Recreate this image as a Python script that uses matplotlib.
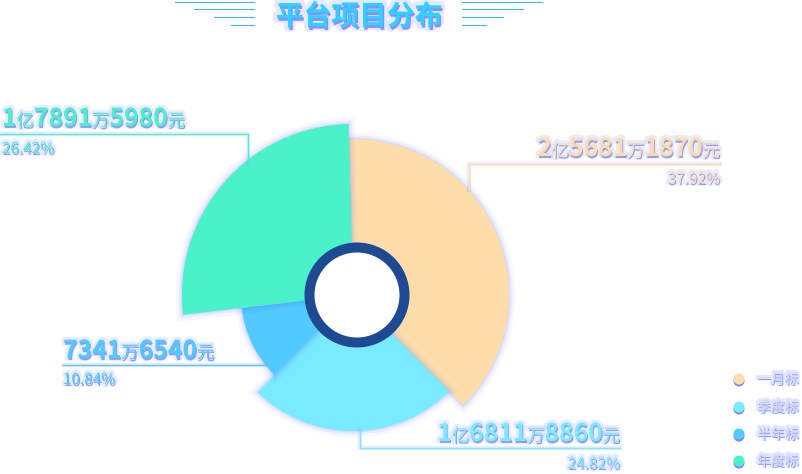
import matplotlib
matplotlib.use("Agg")
import matplotlib.pyplot as plt
import matplotlib.patheffects as pe
from matplotlib.patches import Circle
from matplotlib.offsetbox import TextArea, HPacker, AnnotationBbox

plt.rcParams['font.family'] = ['Noto Sans CJK SC', 'DejaVu Sans']

# data
categories = ['一月标', '季度标', '半年标', '年度标']
amounts = [256811870, 168118860, 73416540, 178915980]
colors = ['#ffddaa', '#78ebff', '#50caff', '#4af2ca']
title = '平台项目分布'

# styling (pixel units, figure is 802 x 474)
W, H = 802, 474
radius_px = [156, 136, 112, 171]
pie_center = (353, H - 295)
ring_center = (357, H - 295)
glow = '#5566ff'


def Y(y):
    return H - y


def glow_fx(lw=4, a=0.25):
    return [pe.Stroke(linewidth=lw, foreground=glow, alpha=a * 0.5),
            pe.SimplePatchShadow(offset=(0.6, -1.4), shadow_rgbFace='#4b58f0', alpha=0.55),
            pe.Normal()]


def split_amount(v):
    yi, wan, yuan = v // 10**8, (v // 10**4) % 10**4, v % 10**4
    parts = []
    if yi:
        parts += [(str(yi), True), ('亿', False)]
    parts += [(str(wan), True), ('万', False), (str(yuan), True), ('元', False)]
    return parts


fig = plt.figure(figsize=(W / 100, H / 100), dpi=100)
ax = fig.add_axes([0, 0, 1, 1])

wedges, _ = ax.pie(amounts, colors=colors, startangle=91.5, counterclock=False,
                   center=pie_center, radius=1)
for w, r in zip(wedges, radius_px):
    w.set_radius(r)
    w.set_path_effects([pe.Stroke(linewidth=9, foreground=glow, alpha=0.05),
                        pe.Stroke(linewidth=5, foreground=glow, alpha=0.08),
                        pe.Stroke(linewidth=2, foreground=glow, alpha=0.12),
                        pe.Normal()])

ax.add_patch(Circle(ring_center, 47.5, facecolor='white', edgecolor='#1e4a94',
                    linewidth=7.2, zorder=5))

ax.set_xlim(0, W)
ax.set_ylim(0, H)
ax.set_aspect('auto')
ax.axis('off')

total = sum(amounts)

# label layout: (text anchor x, baseline y of amount, baseline y of percent, align, leader line points)
label_pos = [
    (720, 157, 183, 'right', [(469, 190), (469, 164), (720, 164)]),
    (620, 442, 468, 'right', [(360, 430), (360, 448), (620, 448)]),
    (63, 359, 384, 'left', [(265, 365), (63, 365)]),
    (2, 127, 153, 'left', [(248, 164), (248, 134), (0, 134)]),
]

for amt, col, (x, yb, yp, al, pts) in zip(amounts, colors, label_pos):
    xs = [p[0] for p in pts]
    ys = [Y(p[1]) for p in pts]
    ax.plot(xs, ys, color=col, lw=1, zorder=3,
            path_effects=[pe.Stroke(linewidth=3, foreground=glow, alpha=0.12), pe.Normal()])

    kids = []
    for s, big in split_amount(amt):
        props = dict(color=col, fontsize=17.8 if big else 12.5,
                     fontweight='bold' if big else 'normal',
                     path_effects=glow_fx())
        kids.append(TextArea(s, textprops=props))
    box = HPacker(children=kids, align='baseline', pad=0, sep=0)
    ab = AnnotationBbox(box, (x, Y(yb) - 4), xycoords='data',
                        box_alignment=(1 if al == 'right' else 0, 0),
                        frameon=False, pad=0, zorder=6)
    ax.add_artist(ab)

    pct = amt / total * 100
    ax.text(x, Y(yp), f'{pct:.2f}%', color=col, fontsize=11, ha=al,
            va='baseline', path_effects=glow_fx(), zorder=6)

# title
ax.text(359, Y(17), title, color='#2ad4ff', fontsize=20, fontweight='bold',
        ha='center', va='center', zorder=6,
        path_effects=[pe.Stroke(linewidth=6, foreground=glow, alpha=0.15),
                      pe.SimplePatchShadow(offset=(1, -1.8), shadow_rgbFace='#5a4cff', alpha=0.6),
                      pe.Normal()])

deco_y = [2, 9, 17, 25]
left_start = [175, 194, 214, 231]
right_end = [542, 523, 503, 486]
for yy, x0, x1 in zip(deco_y, left_start, right_end):
    ax.plot([x0, 254], [Y(yy), Y(yy)], color='#3cb5e0', lw=0.8)
    ax.plot([462, x1], [Y(yy), Y(yy)], color='#3cb5e0', lw=0.8)

# legend
leg_y = [379, 407, 434, 461]
for cat, col, yy in zip(categories, colors, leg_y):
    ax.add_patch(Circle((739, Y(yy)), 5.5, facecolor=col, edgecolor='none', zorder=6,
                        path_effects=[pe.SimplePatchShadow(offset=(0, -1.5), shadow_rgbFace='#4b58f0', alpha=0.7),
                                      pe.Normal()]))
    ax.text(757, Y(yy), cat, color='#d2dcf6', fontsize=10, ha='left', va='center',
            zorder=6, path_effects=glow_fx(3, 0.3))

fig.savefig('out.png', dpi=100)
